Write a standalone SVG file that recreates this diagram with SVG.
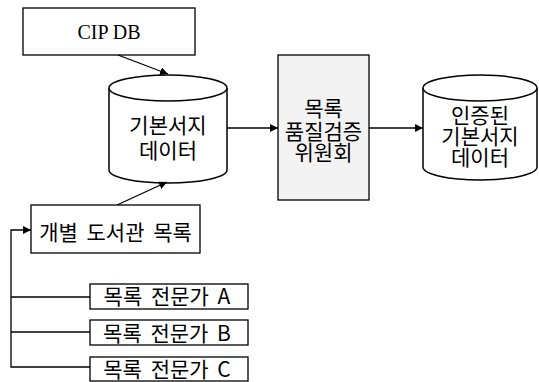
<svg xmlns="http://www.w3.org/2000/svg" width="539" height="382" viewBox="0 0 539 382">
<style>
.box{fill:#fff;stroke:#000;stroke-width:1.3}
.gbox{fill:#f3f3f3;stroke:#000;stroke-width:1.3}
.cyl{fill:#fff;stroke:#000;stroke-width:1.5}
.kt{font-family:"Noto Sans CJK KR","Noto Sans",sans-serif;font-size:21px;fill:#000;text-anchor:middle}
.ws{word-spacing:4px}
.st{font-family:"Liberation Serif",serif;font-size:20px;fill:#000;text-anchor:middle}
.ln{fill:none;stroke:#000;stroke-width:1.3}
</style>
<defs>
<marker id="ah" viewBox="0 0 10 10" refX="10" refY="5" markerWidth="8" markerHeight="8" markerUnits="userSpaceOnUse" orient="auto">
<path d="M0,0 L10,5 L0,10 z" fill="#000"/>
</marker>
</defs>
<rect width="539" height="382" fill="#fff"/>
<g id="cipdb">
<rect class="box" x="23" y="8" width="172" height="47"/>
<text class="st" x="109" y="39">CIP DB</text>
</g>
<g id="basic-data">
<path class="cyl" d="M109,88 L109,170 A59,13 0 0 0 227,170 L227,88"/>
<ellipse class="cyl" cx="168" cy="88" rx="59" ry="13"/>
<text class="kt" x="168" y="133">기본서지</text>
<text class="kt" x="168" y="158">데이터</text>
</g>
<g id="committee">
<rect class="gbox" x="278" y="55" width="91" height="145"/>
<text class="kt" x="323.5" y="116">목록</text>
<text class="kt" x="323.5" y="139">품질검증</text>
<text class="kt" x="323.5" y="160">위원회</text>
</g>
<g id="certified-data">
<path class="cyl" d="M423,88 L423,167 A57,13 0 0 0 537,167 L537,88"/>
<ellipse class="cyl" cx="480" cy="88" rx="57" ry="13"/>
<text class="kt" x="480" y="123">인증된</text>
<text class="kt" x="480" y="144">기본서지</text>
<text class="kt" x="480" y="165">데이터</text>
</g>
<g id="library-catalog">
<rect class="box" x="31" y="205" width="169" height="48"/>
<text class="kt ws" x="115.5" y="240">개별 도서관 목록</text>
</g>
<g id="expert-a">
<rect class="box" x="90" y="284" width="158" height="25"/>
<text class="kt ws" x="167" y="304">목록 전문가 A</text>
</g>
<g id="expert-b">
<rect class="box" x="90" y="320" width="158" height="25"/>
<text class="kt ws" x="167" y="341">목록 전문가 B</text>
</g>
<g id="expert-c">
<rect class="box" x="90" y="357" width="158" height="24"/>
<text class="kt ws" x="167" y="377">목록 전문가 C</text>
</g>
<g id="connectors">
<line class="ln" x1="118" y1="55" x2="168" y2="74" marker-end="url(#ah)"/>
<line class="ln" x1="227" y1="128" x2="278" y2="128" marker-end="url(#ah)"/>
<line class="ln" x1="369" y1="128" x2="423" y2="128" marker-end="url(#ah)"/>
<line class="ln" x1="117" y1="205" x2="167" y2="182" marker-end="url(#ah)"/>
<polyline class="ln" points="90,367 11,367 11,230 31,230" marker-end="url(#ah)"/>
<line class="ln" x1="11" y1="297" x2="90" y2="297"/>
<line class="ln" x1="11" y1="332" x2="90" y2="332"/>
</g>
</svg>
